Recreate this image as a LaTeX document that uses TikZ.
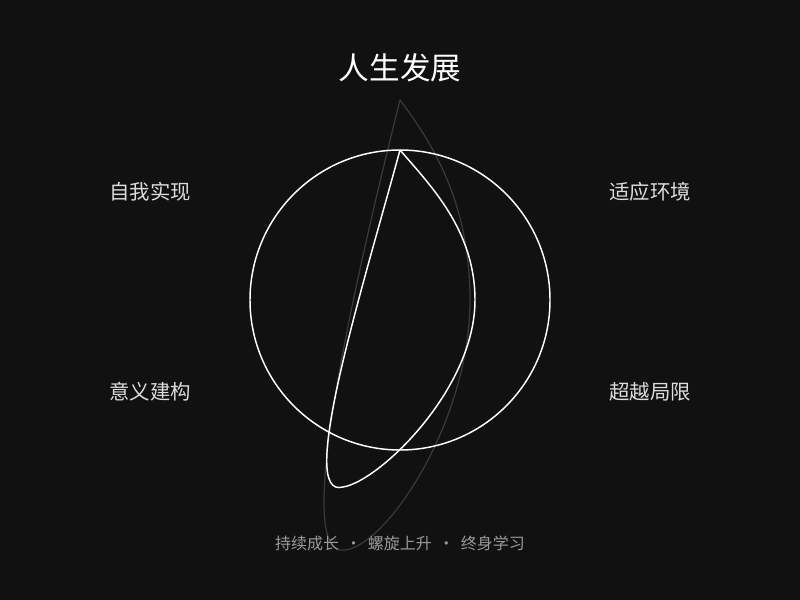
\documentclass[tikz,border=0pt]{standalone}
\usepackage{fontspec}
\newfontfamily\cjk{Noto Sans CJK SC}
\usetikzlibrary{calc}
\definecolor{bgdark}{HTML}{111111}
\definecolor{labelgray}{HTML}{DDDDDD}
\definecolor{footgray}{HTML}{9A9A9A}
\definecolor{ghostline}{HTML}{3A3A3A}

\begin{document}
\begin{tikzpicture}[x = 0.75pt, y = -0.75pt,
        title/.style = {text = white, font = \cjk\fontsize{23}{26}\selectfont},
        aspect/.style = {text = labelgray, font = \cjk\fontsize{15.3}{18}\selectfont},
        foot/.style = {text = footgray, font = \cjk\fontsize{12}{14}\selectfont},
        mainline/.style = {draw, white, line width = 1.1pt},
        ghost/.style = {draw, ghostline, line width = 0.9pt}]
                \path[fill = bgdark](0,0)rectangle(800,600);
                \useasboundingbox(0,0)rectangle(800,600);
                \coordinate(O)at(400,300);
                % ghost loop
                \coordinate(G1)at(400,100);
                \coordinate(G2)at(345,550);
                \coordinate(G3)at(470,300);
                \path[ghost](G1)..controls(350,300)and(292,560)..(G2)
                    ..controls(388,545)and(470,420)..(G3)
                    ..controls(470,200)and(430,140)..(G1);
                % circle
                \path[mainline](O)circle(150);
                % loop
                \coordinate(L1)at(400,150);
                \coordinate(L2)at(343,487);
                \coordinate(L3)at(475,300);
                \path[mainline, line join = miter](L1)..controls(362,290)and(296,500)..(L2)
                    ..controls(378,482)and(475,390)..(L3)
                    ..controls(475,230)and(430,185)..(L1);
                % labels
                \node[title](T)at(400,68){人生发展};
                \node[aspect](A)at(150,192){自我实现};
                \node[aspect](B)at(650,192){适应环境};
                \node[aspect](C)at(150,392){意义建构};
                \node[aspect](D)at(650,392){超越局限};
                \node[foot](F)at(400,543){持续成长\hspace{0.4em}·\hspace{0.4em}螺旋上升\hspace{0.4em}·\hspace{0.4em}终身学习};
            \end{tikzpicture}
\end{document}
